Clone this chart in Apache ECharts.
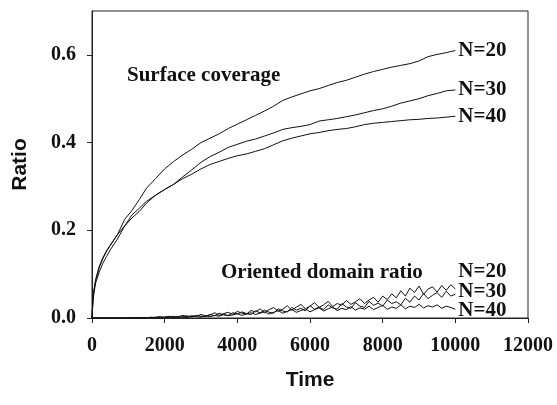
<!DOCTYPE html>
<html>
<head>
<meta charset="utf-8">
<script src="https://cdn.jsdelivr.net/npm/echarts@6/dist/echarts.min.js"></script>
<style>html,body{margin:0;padding:0;background:#fff}#c{width:557px;height:405px}</style>
</head>
<body>
<div id="c"></div>
<script>
// ---- data ----
const covTime = [0,25,50,100,200,300,400,500,700,900,1100,1300,1500,1750,2000,2250,2500,2750,3000,3250,3500,3750,4000,4250,4500,4750,5000,5250,5500,5750,6000,6250,6500,6750,7000,7250,7500,7750,8000,8250,8500,8750,9000,9250,9500,9750,10000];
const covN20 = [0,0.04,0.06,0.085,0.115,0.135,0.152,0.165,0.19,0.225,0.245,0.27,0.296,0.318,0.34,0.357,0.372,0.385,0.4,0.41,0.42,0.432,0.442,0.452,0.462,0.472,0.483,0.496,0.504,0.511,0.518,0.523,0.53,0.537,0.542,0.549,0.556,0.562,0.567,0.572,0.576,0.58,0.586,0.596,0.601,0.605,0.61];
const covN30 = [0,0.035,0.055,0.08,0.105,0.125,0.14,0.155,0.18,0.21,0.228,0.243,0.262,0.28,0.293,0.305,0.322,0.338,0.355,0.368,0.378,0.389,0.396,0.403,0.408,0.415,0.422,0.43,0.434,0.437,0.441,0.449,0.452,0.455,0.459,0.463,0.468,0.473,0.477,0.483,0.49,0.495,0.5,0.507,0.512,0.518,0.52];
const covN40 = [0,0.045,0.062,0.088,0.118,0.138,0.153,0.166,0.19,0.21,0.235,0.25,0.266,0.28,0.293,0.305,0.318,0.328,0.34,0.35,0.357,0.364,0.37,0.374,0.38,0.386,0.395,0.404,0.41,0.415,0.42,0.423,0.427,0.43,0.432,0.436,0.441,0.444,0.446,0.448,0.45,0.452,0.453,0.455,0.456,0.458,0.46];

const oriTime = [0,500,1000,1500,1625,1750,1875,2000,2125,2250,2375,2500,2625,2750,2875,3000,3125,3250,3375,3500,3625,3750,3875,4000,4125,4250,4375,4500,4625,4750,4875,5000,5125,5250,5375,5500,5625,5750,5875,6000,6125,6250,6375,6500,6625,6750,6875,7000,7125,7250,7375,7500,7625,7750,7875,8000,8125,8250,8375,8500,8625,8750,8875,9000,9125,9250,9375,9500,9625,9750,9875,10000];
const oriN20 = [0,0,0,0.001,0,0.002,0.003,0.001,0.004,0.002,0.003,0.006,0.003,0.005,0.004,0.008,0.005,0.007,0.012,0.006,0.01,0.013,0.008,0.015,0.011,0.009,0.017,0.014,0.021,0.012,0.019,0.024,0.015,0.02,0.028,0.018,0.025,0.031,0.021,0.027,0.035,0.024,0.03,0.038,0.026,0.033,0.029,0.04,0.031,0.037,0.044,0.033,0.041,0.047,0.036,0.05,0.042,0.055,0.046,0.062,0.05,0.068,0.058,0.073,0.054,0.066,0.071,0.059,0.074,0.063,0.076,0.066];
const oriN30 = [0,0,0,0,0.002,0.001,0,0.003,0.002,0.004,0.001,0.003,0.005,0.002,0.006,0.004,0.003,0.008,0.005,0.011,0.007,0.006,0.012,0.009,0.014,0.01,0.008,0.016,0.012,0.018,0.013,0.011,0.021,0.016,0.014,0.024,0.018,0.022,0.016,0.028,0.02,0.025,0.019,0.03,0.023,0.02,0.033,0.025,0.022,0.035,0.027,0.024,0.038,0.029,0.034,0.027,0.041,0.033,0.037,0.03,0.045,0.036,0.05,0.041,0.056,0.044,0.052,0.058,0.047,0.061,0.05,0.054];
const oriN40 = [0,0,0,0.001,0,0.001,0.002,0,0.002,0.001,0.003,0.002,0.001,0.004,0.003,0.002,0.005,0.003,0.006,0.004,0.008,0.005,0.007,0.01,0.006,0.009,0.012,0.008,0.011,0.014,0.009,0.013,0.017,0.011,0.015,0.019,0.013,0.017,0.021,0.014,0.019,0.023,0.016,0.021,0.025,0.017,0.022,0.019,0.026,0.018,0.023,0.02,0.027,0.019,0.024,0.029,0.02,0.025,0.022,0.03,0.021,0.027,0.024,0.031,0.023,0.028,0.025,0.03,0.022,0.027,0.024,0.02];

const seriesNames = ['N=20','N=30','N=40'];
const xTicks = [0,2000,4000,6000,8000,10000,12000];
const yTicks = [0,0.2,0.4,0.6];
const annotations = ['Surface coverage','Oriented domain ratio'];

// ---- chart ----
const zip = (t, v) => t.map((x, i) => [x, v[i]]);
const serif = "'Liberation Serif','Times New Roman',serif";
const sans = "'Liberation Sans',Arial,sans-serif";
const lblBase = {show:true, fontFamily:serif, fontWeight:'bold', fontSize:21, color:'#111', distance:3};

function line(name, data, offsetY) {
  return {
    type:'line', name, data, showSymbol:false, symbol:'none', animation:false,
    lineStyle:{color:'#111', width:1}, silent:true,
    endLabel: Object.assign({}, lblBase, {formatter: name, offset:[0, offsetY]})
  };
}

const chart = echarts.init(document.getElementById('c'), null, {renderer:'canvas'});
chart.setOption({
  backgroundColor:'#fff',
  animation:false,
  grid:{left:92, right:29, top:11, bottom:87, show:true, borderColor:'#222', borderWidth:1, backgroundColor:'transparent'},
  xAxis:{
    type:'value', min:0, max:12000, interval:2000,
    name:'Time', nameLocation:'middle', nameGap:52,
    nameTextStyle:{fontFamily:sans, fontWeight:'bold', fontSize:21, color:'#111'},
    axisLine:{lineStyle:{color:'#222', width:1}},
    axisTick:{show:true, length:5, lineStyle:{color:'#222'}, customValues:xTicks},
    axisLabel:{fontFamily:serif, fontWeight:'bold', fontSize:20, color:'#111', margin:18, customValues:xTicks,
      formatter: v => String(v)},
    splitLine:{show:false}
  },
  yAxis:{
    type:'value', min:0, max:0.7, interval:0.1,
    name:'Ratio', nameLocation:'middle', nameGap:61, nameRotate:90,
    nameTextStyle:{fontFamily:sans, fontWeight:'bold', fontSize:21, color:'#111'},
    axisLine:{show:true, lineStyle:{color:'#222', width:1}},
    axisTick:{show:true, length:5, lineStyle:{color:'#222'}, customValues:yTicks},
    axisLabel:{fontFamily:serif, fontWeight:'bold', fontSize:20, color:'#111', margin:16, customValues:yTicks,
      formatter: v => Number(v).toFixed(1)},
    splitLine:{show:false}
  },
  series:[
    line(seriesNames[0], zip(covTime, covN20), 0),
    line(seriesNames[1], zip(covTime, covN30), 0),
    line(seriesNames[2], zip(covTime, covN40), 0),
    line(seriesNames[0], zip(oriTime, oriN20), -17),
    line(seriesNames[1], zip(oriTime, oriN30), -3),
    line(seriesNames[2], zip(oriTime, oriN40), 1)
  ],
  graphic:[
    {type:'text', left:127, top:65, style:{text:annotations[0], font:"bold 21px 'Liberation Serif','Times New Roman',serif", fill:'#111'}},
    {type:'text', left:221, top:262, style:{text:annotations[1], font:"bold 21px 'Liberation Serif','Times New Roman',serif", fill:'#111'}}
  ]
});
</script>
</body>
</html>
